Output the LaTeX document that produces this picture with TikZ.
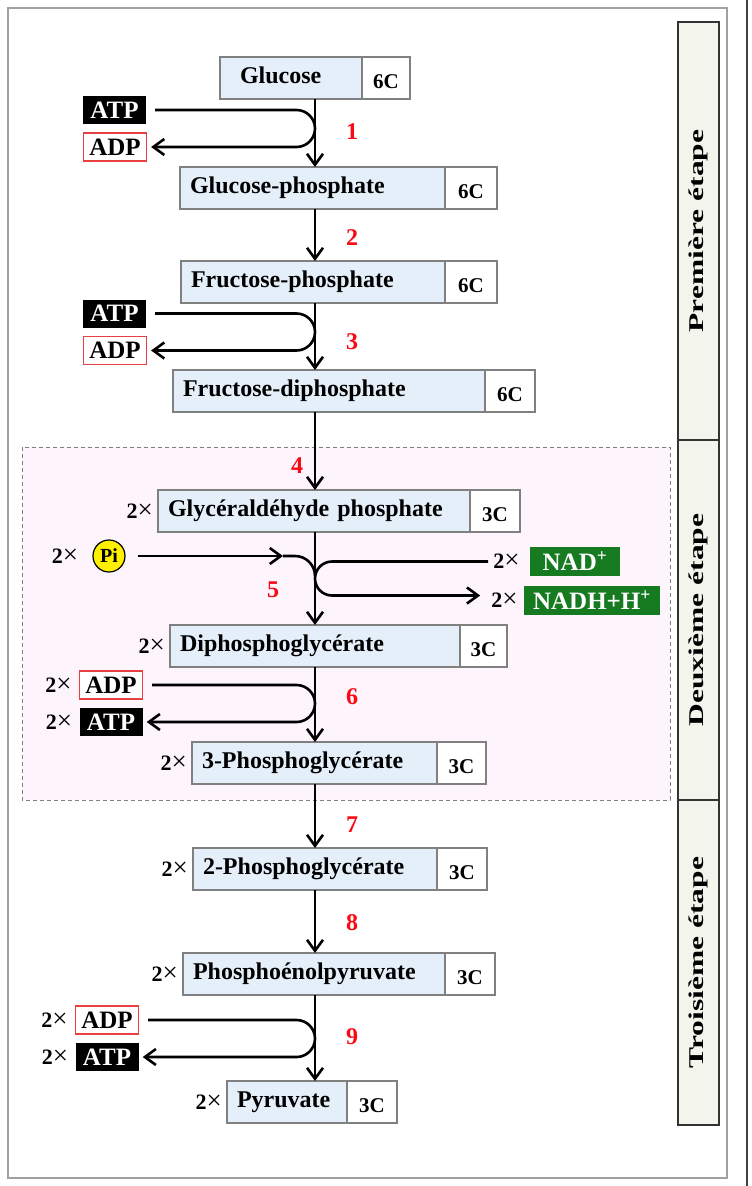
\documentclass[tikz,border=0pt]{standalone}
\usepackage{fontspec}
\setmainfont{Liberation Serif}
\usetikzlibrary{positioning,calc,arrows.meta}

\definecolor{molblue}{RGB}{228,239,250}
\definecolor{stepred}{RGB}{250,10,20}
\definecolor{adpred}{RGB}{232,64,64}
\definecolor{nadgreen}{RGB}{22,122,32}
\definecolor{zonepink}{RGB}{253,244,252}
\definecolor{stagegray}{RGB}{243,244,236}
\definecolor{framegray}{RGB}{160,160,160}
\definecolor{pigold}{RGB}{255,240,0}

\newcommand{\fsz}[1]{\fontsize{#1}{#1}\selectfont}
\newcommand{\twotimes}{\textbf{2}{\fsz{27}×}}

\tikzset{
  mol/.style={draw=gray, line width=1.2pt, fill=molblue, anchor=north west,
    minimum height=42pt, inner xsep=10pt, inner ysep=0pt, outer sep=0pt,
    text width=#1, align=left, text height=16pt, text depth=5pt,
    font=\bfseries\fsz{24}},
  carb/.style={draw=gray, line width=1.2pt, fill=white, anchor=west,
    minimum height=42pt, minimum width=#1, inner sep=0pt, outer sep=0pt,
    text height=21pt, text depth=0pt, font=\bfseries\fsz{21}},
  atp/.style={fill=black, text=white, minimum width=63pt, minimum height=28pt,
    inner sep=0pt, font=\bfseries\fsz{25}},
  adp/.style={draw=adpred, line width=1.2pt, fill=white, minimum width=63pt,
    minimum height=28pt, inner sep=0pt, font=\bfseries\fsz{25}},
  nad/.style={fill=nadgreen, text=white, minimum width=#1, minimum height=29pt,
    inner sep=0pt, font=\bfseries\fsz{25}},
  pi/.style={circle, draw=black, line width=1.2pt, fill=pigold, minimum size=32pt,
    inner sep=0pt, font=\bfseries\fsz{20}},
  twice/.style={inner sep=0pt, font=\fsz{22}},
  num/.style={text=stepred, inner sep=0pt, font=\bfseries\fsz{24}},
  stage/.style={draw=black!80, line width=2pt, fill=stagegray, rotate=90,
    minimum height=41pt, inner sep=0pt, font=\bfseries\fsz{21}},
  zone/.style={draw=gray, dash pattern=on 4pt off 3pt, line width=1pt, fill=zonepink},
  line/.style={line width=2.6pt},
  flow/.style={line width=2.6pt, -{Straight Barb[length=11pt,width=16pt]}}
}

\begin{document}
\begin{tikzpicture}[x=1pt,y=-1pt]
	\useasboundingbox (0,0) rectangle (752,1186);
	% frame
	\draw[framegray, line width=2.5pt] (8,8) rectangle (727,1178);
	\draw[black!75, line width=2pt] (747,0) -- (747,1186);

	% second stage zone
	\draw[zone] (22,447) rectangle (670,800);

	% stages
	\node[stage, minimum width=418pt] (stage1) at (698.5,231) {\scalebox{1.5}[1]{Première étape}};
	\node[stage, minimum width=360pt] (stage2) at (698.5,620) {\scalebox{1.5}[1]{Deuxième étape}};
	\node[stage, minimum width=325pt] (stage3) at (698.5,962.5) {\scalebox{1.5}[1]{Troisième étape}};

	\coordinate (axis) at (315,0);

	% molecules
	\node[mol=102pt, inner xsep=20pt] (glc) at (220,57) {Glucose};
	\node[carb=48pt] (glcC) at (glc.east) {6C};
	\node[mol=245pt] (glp) at (180,167) {Glucose-phosphate};
	\node[carb=52pt] (glpC) at (glp.east) {6C};
	\node[mol=244pt] (frp) at (181,261) {Fructose-phosphate};
	\node[carb=52pt] (frpC) at (frp.east) {6C};
	\node[mol=292pt] (fdp) at (173,370) {Fructose-diphosphate};
	\node[carb=50pt] (fdpC) at (fdp.east) {6C};
	\node[mol=292pt] (gap) at (158,490) {Glycéraldéhyde phosphate};
	\node[carb=50pt] (gapC) at (gap.east) {3C};
	\node[mol=270pt] (dpg) at (170,625) {Diphosphoglycérate};
	\node[carb=47pt] (dpgC) at (dpg.east) {3C};
	\node[mol=225pt] (pgA) at (192,742) {3-Phosphoglycérate};
	\node[carb=49pt] (pgAC) at (pgA.east) {3C};
	\node[mol=224pt] (pgB) at (193,848) {2-Phosphoglycérate};
	\node[carb=50pt] (pgBC) at (pgB.east) {3C};
	\node[mol=242pt] (pep) at (183,953) {Phosphoénolpyruvate};
	\node[carb=50pt] (pepC) at (pep.east) {3C};
	\node[mol=100pt] (pyr) at (227,1081) {Pyruvate};
	\node[carb=50pt] (pyrC) at (pyr.east) {3C};

	\node[twice, left=5pt of gap] (gapk) {\twotimes};
	\node[twice, left=5pt of dpg] (dpgk) {\twotimes};
	\node[twice, left=5pt of pgA] (pgAk) {\twotimes};
	\node[twice, left=5pt of pgB] (pgBk) {\twotimes};
	\node[twice, left=5pt of pep] (pepk) {\twotimes};
	\node[twice, left=5pt of pyr] (pyrk) {\twotimes};

	% main chain
	\draw[flow] (glc.south -| axis) -- (glp.north -| axis);
	\draw[flow] (glp.south -| axis) -- (frp.north -| axis);
	\draw[flow] (frp.south -| axis) -- (fdp.north -| axis);
	\draw[flow] (fdp.south -| axis) -- (gap.north -| axis);
	\draw[flow] (gap.south -| axis) -- (dpg.north -| axis);
	\draw[flow] (dpg.south -| axis) -- (pgA.north -| axis);
	\draw[flow] (pgA.south -| axis) -- (pgB.north -| axis);
	\draw[flow] (pgB.south -| axis) -- (pep.north -| axis);
	\draw[flow] (pep.south -| axis) -- (pyr.north -| axis);

	% step 1
	\node[atp] (atp1) at (114.5,110) {ATP};
	\node[adp] (adp1) at (115,147) {ADP};
	\draw[flow] ([xshift=9pt]atp1.east) -- ($(atp1.east -| axis)+(-18.5,0)$)
		arc[start angle=90, end angle=-90, radius=18.5pt] -- ([xshift=4pt]adp1.east);

	% step 3
	\node[atp] (atp3) at (114.5,313.5) {ATP};
	\node[adp] (adp3) at (115,350.5) {ADP};
	\draw[flow] ([xshift=9pt]atp3.east) -- ($(atp3.east -| axis)+(-18.5,0)$)
		arc[start angle=90, end angle=-90, radius=18.5pt] -- ([xshift=4pt]adp3.east);

	% step 5
	\node[pi] (pi1) at (109,556) {Pi};
	\node[twice, left=14pt of pi1] (pik) {\twotimes};
	\coordinate (pimid) at (283,556);
	\draw[flow] ([xshift=12pt]pi1.east) -- (pimid);
	\draw[line] (pimid) -- ($(pi1.east -| axis)+(-20,0)$)
		arc[start angle=90, end angle=0, radius=20pt];
	\node[nad=90pt] (nad1) at (575,561.5) {NAD\textsuperscript{+}};
	\node[nad=136pt] (nadh1) at (592,600.5) {NADH+H\textsuperscript{+}};
	\node[twice, left=10pt of nad1] (nadk) {\twotimes};
	\node[twice, left=6pt of nadh1] (nadhk) {\twotimes};
	\draw[flow] ([xshift=-5pt]nadk.west) -- ($(nadk.west -| axis)+(17,0)$)
		arc[start angle=90, end angle=270, radius=17pt] -- ([xshift=-11pt,yshift=5pt]nadhk.west);

	% step 6
	\node[adp] (adp6) at (111,685) {ADP};
	\node[atp] (atp6) at (111,722) {ATP};
	\node[twice, left=7pt of adp6] (adp6k) {\twotimes};
	\node[twice, left=7pt of atp6] (atp6k) {\twotimes};
	\draw[flow] ([xshift=9pt]adp6.east) -- ($(adp6.east -| axis)+(-18.5,0)$)
		arc[start angle=90, end angle=-90, radius=18.5pt] -- ([xshift=4pt]atp6.east);

	% step 9
	\node[adp] (adp9) at (107,1020) {ADP};
	\node[atp] (atp9) at (107,1057) {ATP};
	\node[twice, left=7pt of adp9] (adp9k) {\twotimes};
	\node[twice, left=7pt of atp9] (atp9k) {\twotimes};
	\draw[flow] ([xshift=9pt]adp9.east) -- ($(adp9.east -| axis)+(-18.5,0)$)
		arc[start angle=90, end angle=-90, radius=18.5pt] -- ([xshift=4pt]atp9.east);

	% step numbers
	\node[num] (n1) at (352,132) {1};
	\node[num] (n2) at (352,238) {2};
	\node[num] (n3) at (352,342) {3};
	\node[num] (n4) at (297,466) {4};
	\node[num] (n5) at (273,590) {5};
	\node[num] (n6) at (352,697) {6};
	\node[num] (n7) at (352,825) {7};
	\node[num] (n8) at (352,923) {8};
	\node[num] (n9) at (352,1037) {9};
\end{tikzpicture}
\end{document}
